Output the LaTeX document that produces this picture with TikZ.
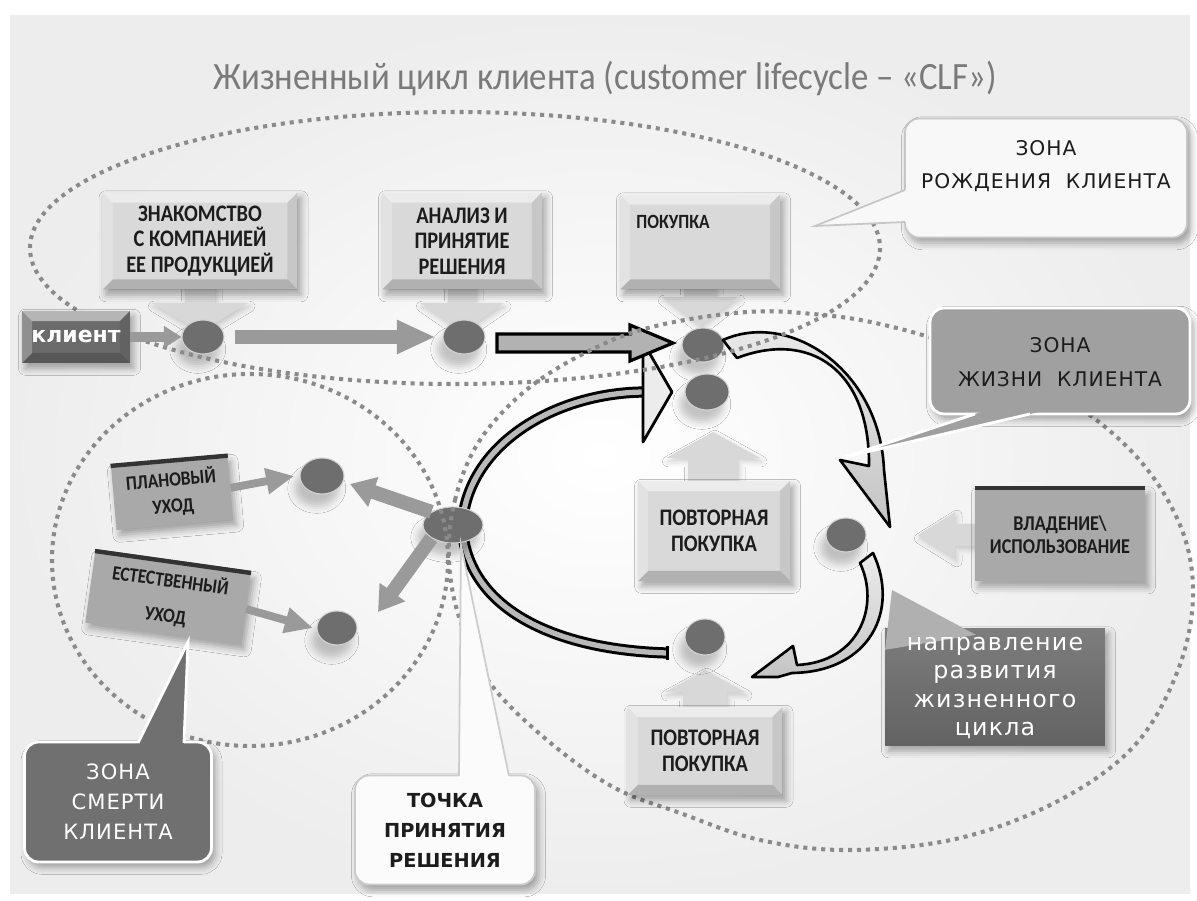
\documentclass[tikz,border=0pt]{standalone}
\usepackage{fontspec}
\setmainfont{Carlito}
\newfontfamily\titlefont[FakeStretch=0.9]{Carlito}
\newfontfamily\condfont[FakeStretch=0.86]{Carlito}
\newfontfamily\zonefont[LetterSpace=5]{DejaVu Sans}
\newfontfamily\verdfont{DejaVu Sans}
\usetikzlibrary{arrows.meta,shapes.geometric,shadows.blur,calc}

\definecolor{titlegray}{HTML}{7A7A7A}
\definecolor{boxlight}{HTML}{D9D9D9}
\definecolor{boxmid}{HTML}{A9A9A9}
\definecolor{boxdark}{HTML}{6B6B6B}
\definecolor{ballc}{HTML}{6E6E6E}
\definecolor{dotc}{HTML}{8A8A8A}
\definecolor{txt}{HTML}{1C1C1C}
\definecolor{arrlight}{HTML}{D8D8D8}
\definecolor{garr}{HTML}{9A9A9A}
\definecolor{zrfill}{HTML}{F8F8F8}
\definecolor{zlfill}{HTML}{A0A0A0}
\definecolor{zsfill}{HTML}{707070}
\definecolor{tpfill}{HTML}{FBFBFB}
\definecolor{cycfill}{HTML}{C4C4C4}

\newcommand\pw[1]{#1*0.569pt}
\newcommand\bv{10}
\newcommand\dnarrow[6]{%
  \fill[arrlight, blur shadow={shadow xshift=1pt,shadow yshift=-2pt,shadow opacity=18,shadow blur radius=3pt}]
   (#1-#5,#2) -- (#1+#5,#2) -- (#1+#5,#3) -- (#1+#6,#3) -- (#1,#4) -- (#1-#6,#3) -- (#1-#5,#3) -- cycle;}
\newcommand\lfarrow[6]{%
  \fill[arrlight, blur shadow={shadow xshift=1pt,shadow yshift=-2pt,shadow opacity=18,shadow blur radius=3pt}]
   (#2,#1-#5) -- (#2,#1+#5) -- (#3,#1+#5) -- (#3,#1+#6) -- (#4,#1) -- (#3,#1-#6) -- (#3,#1-#5) -- cycle;}
\newcommand\pointer[5]{%
  \fill[#1] ($(#4)!1.15!(#3)$) -- (#4) -- ($(#4)!1.15!(#5)$) -- cycle;
  \draw[#2] (#3) -- (#4) -- (#5);}

\tikzset{
  dots/.style={draw=dotc, line width=2.3pt, dash pattern=on 2.3pt off 2.8pt},
  ball/.style={ellipse, fill=ballc, draw=gray!35, line width=.6pt, inner sep=0pt,
    blur shadow={shadow xshift=-3pt, shadow yshift=-7pt, shadow opacity=22, shadow blur radius=4pt}},
  softshadow/.style={blur shadow={shadow xshift=2pt, shadow yshift=-3pt, shadow opacity=35, shadow blur radius=4pt}},
  bevel/.style={rectangle, fill=#1, inner sep=1pt, align=center, softshadow,
    path picture={
      \fill[white,opacity=.5] (path picture bounding box.north west) -- (path picture bounding box.north east)
        -- ([shift={(-\bv,\bv)}]path picture bounding box.north east) -- ([shift={(\bv,\bv)}]path picture bounding box.north west) -- cycle;
      \fill[black,opacity=.18] (path picture bounding box.south west) -- (path picture bounding box.south east)
        -- ([shift={(-\bv,-\bv)}]path picture bounding box.south east) -- ([shift={(\bv,-\bv)}]path picture bounding box.south west) -- cycle;
      \fill[white,opacity=.25] (path picture bounding box.north west) -- ([shift={(\bv,\bv)}]path picture bounding box.north west)
        -- ([shift={(\bv,-\bv)}]path picture bounding box.south west) -- (path picture bounding box.south west) -- cycle;
      \fill[black,opacity=.08] (path picture bounding box.north east) -- ([shift={(-\bv,\bv)}]path picture bounding box.north east)
        -- ([shift={(-\bv,-\bv)}]path picture bounding box.south east) -- (path picture bounding box.south east) -- cycle;
    }},
  boxtext/.style={font=\condfont\bfseries\fontsize{13.5}{14.5}\selectfont, text=txt},
  slab/.style={rectangle, fill=boxmid, inner sep=1pt, align=center, softshadow,
    font=\condfont\bfseries\fontsize{11.5}{15}\selectfont, text=txt},
  zone/.style={rectangle, rounded corners=8pt, line width=1.6pt, softshadow},
  zonetext/.style={font=\zonefont\fontsize{11.5}{19}\selectfont, align=center},
  garrow/.style={draw=garr, line width=#1},
  cyc/.style={top color=gray!15, bottom color=cycfill, draw=black, line width=1.5pt, line join=round},
}

\begin{document}
\begin{tikzpicture}[x=0.02cm, y=-0.02cm]
\useasboundingbox (0,0) rectangle (1197,901);
\fill[white] (0,0) rectangle (1197,901);
\shade[inner color=white, outer color=gray!14] (10,16) rectangle (1190,893);

% light block arrows from the boxes
\dnarrow{200}{270}{303}{332}{15}{48}
\dnarrow{462}{270}{303}{332}{14}{42}
\dnarrow{700}{270}{297}{326}{16}{38}
\dnarrow{713}{500}{458}{432}{25}{47}
\dnarrow{705}{720}{692}{670}{22}{40}
\lfarrow{535}{995}{955}{918}{11}{23}

% balls
\node[ball, minimum width=\pw{42}, minimum height=\pw{34}] (b1) at (203,337) {};
\node[ball, minimum width=\pw{42}, minimum height=\pw{34}] (b2) at (464,337) {};
\node[ball, minimum width=\pw{42}, minimum height=\pw{34}] (b3) at (703,345) {};
\node[ball, minimum width=\pw{44}, minimum height=\pw{36}] (b4) at (707,392) {};
\node[ball, minimum width=\pw{40}, minimum height=\pw{34}] (b5) at (846,535) {};
\node[ball, minimum width=\pw{40}, minimum height=\pw{36}] (b6) at (705,637) {};
\node[ball, minimum width=\pw{44}, minimum height=\pw{36}] (bp) at (322,476) {};
\node[ball, minimum width=\pw{40}, minimum height=\pw{34}] (bn) at (337,628) {};

% big C-shaped arrow around the decision point
\draw[draw=black, line width=1.7pt, double=gray!55, double distance=3pt]
  (667,653) .. controls (560,650) and (468,612) .. (462,527)
  .. controls (466,445) and (555,392) .. (646,392);
\draw[black, line width=1.7pt] (667,646) -- (667,660);
\filldraw[fill=gray!15, draw=black, line width=1.6pt, line join=round] (643,342) -- (672,392) -- (643,442) -- cycle;

% decision ball (drawn over the C)
\node[ball, minimum width=\pw{60}, minimum height=\pw{36}] (bd) at (453,525) {};

% straight outlined arrow b2 -> b3
\filldraw[fill=gray!60, draw=black, line width=1.8pt, line join=miter]
  (497,334) -- (630,334) -- (630,325) -- (673,343) -- (630,361) -- (630,352) -- (497,352) -- cycle;

% cycle arrows
\path[cyc] (723,340) .. controls (790,310) and (880,370) .. (884,470) -- (890,527) -- (840,460) -- (869,466)
  .. controls (870,370) and (810,330) .. (737,358) -- cycle;
\path[cyc] (860,563) .. controls (880,605) and (860,662) .. (797,665) -- (793,646) -- (752,677) -- (778,677)
  -- (792,673) .. controls (870,672) and (900,610) .. (873,553) -- cycle;

% grey arrows
\draw[garrow=8pt, -{Triangle[length=22pt,width=18pt]}] ([xshift=6pt]b1.east) -- ([xshift=-4pt]b2.west);
\coordinate (dlu) at (350,484);
\coordinate (dld) at (378,612);
\draw[garrow=8pt, -{Triangle[length=14pt,width=17pt]}] (bd.north west) -- (dlu);
\draw[garrow=8pt, -{Triangle[length=14pt,width=17pt]}] (bd.south west) -- (dld);

% dotted zones
\draw[dots] (455,248) ellipse [x radius=425, y radius=136];
\draw[dots] (250,560) ellipse [x radius=198, y radius=186];
\draw[dots] plot[smooth cycle, tension=0.6] coordinates {
  (449,560) (455,500) (480,440) (530,387) (597,347) (660,325) (747,312) (813,314) (880,324) (960,348)
  (1060,395) (1135,455) (1180,525) (1193,595) (1178,670) (1135,745) (1060,800) (960,838) (850,850)
  (760,840) (680,813) (613,787) (547,740) (490,683) (460,620)};

% client box
\node[bevel=boxdark, minimum width=\pw{108}, minimum height=\pw{52}, text=white,
  font=\verdfont\bfseries\fontsize{12.5}{14}\selectfont] (kl) at (76,337) {клиент};
\draw[garrow=6pt, -{Triangle[length=10pt,width=12pt]}] (kl.east) -- (b1.west);

% top boxes
\node[bevel=boxlight, minimum width=\pw{195}, minimum height=\pw{97}, boxtext] (zn) at (200,241) {ЗНАКОМСТВО\\С КОМПАНИЕЙ\\ЕЕ ПРОДУКЦИЕЙ};
\node[bevel=boxlight, minimum width=\pw{160}, minimum height=\pw{97}, boxtext] (an) at (462,241) {АНАЛИЗ И\\ПРИНЯТИЕ\\РЕШЕНИЯ};
\node[bevel=boxlight, minimum width=\pw{160}, minimum height=\pw{95}] (pk) at (700,242) {};
\node[font=\condfont\bfseries\fontsize{11.5}{12}\selectfont, text=txt] (pkt) at (673,222) {ПОКУПКА};

% repeat purchase boxes
\node[bevel=boxlight, minimum width=\pw{152}, minimum height=\pw{100}, boxtext] (rp1) at (714,531) {ПОВТОРНАЯ\\ПОКУПКА};
\node[bevel=boxlight, minimum width=\pw{155}, minimum height=\pw{88}, boxtext] (rp2) at (705,751) {ПОВТОРНАЯ\\ПОКУПКА};

% ownership box
\node[slab, minimum width=\pw{170}, minimum height=\pw{93}, font=\condfont\bfseries\fontsize{12}{13}\selectfont] (vl) at (1060,535) {ВЛАДЕНИЕ\textbackslash\\ИСПОЛЬЗОВАНИЕ};
\draw[line width=2.5pt, black!80] (vl.north west) -- (vl.north east);

% exit boxes
\node[slab, minimum width=\pw{117}, minimum height=\pw{64}, rotate=5] (pl) at (172,493) {ПЛАНОВЫЙ\\УХОД};
\draw[line width=2.5pt, black!80] (pl.north west) -- (pl.north east);
\node[slab, minimum width=\pw{157}, minimum height=\pw{72}, rotate=-8, font=\condfont\bfseries\fontsize{11.5}{20}\selectfont] (es) at (168,598) {ЕСТЕСТВЕННЫЙ\\УХОД};
\draw[line width=2.5pt, black!80] (es.north west) -- (es.north east);
\draw[garrow=4.5pt, -{Triangle[length=16pt,width=14pt]}] (pl.east) -- ([xshift=-3pt]bp.west);
\draw[garrow=4.5pt, -{Triangle[length=16pt,width=14pt]}] (es.east) -- ([xshift=-2pt]bn.west);

% callouts
\node[zone, fill=zrfill, draw=gray!45, line width=1pt, minimum width=\pw{282}, minimum height=\pw{119}] (zr) at (1046,178) {};
\pointer{zrfill}{draw=gray!45, line width=1pt}{905,190}{815,226}{905,222}
\node[zonetext, text=txt] (zrt) at (1046,166) {ЗОНА\\РОЖДЕНИЯ~~КЛИЕНТА};

\node[zone, fill=zlfill, draw=white, minimum width=\pw{260}, minimum height=\pw{106}] (zl) at (1060,361) {};
\pointer{zlfill}{draw=white, line width=1.6pt}{975,414}{845,457}{1030,414}
\node[zonetext, text=txt] (zlt) at (1060,362) {ЗОНА\\ЖИЗНИ~~КЛИЕНТА};

\node[rectangle, top color=boxdark!88!white, bottom color=boxdark!92!black, softshadow,
  minimum width=\pw{220}, minimum height=\pw{117}] (nap) at (995,687) {};
\pointer{gray!62}{draw=none}{886,642}{892,590}{965,629}
\node[font=\zonefont\fontsize{13.5}{16}\selectfont, text=white, align=center] (napt) at (995,688) {направление\\развития\\жизненного\\цикла};

\node[zone, fill=zsfill, draw=white, minimum width=\pw{187}, minimum height=\pw{120}] (zs) at (118,802) {};
\pointer{zsfill}{draw=white, line width=1.6pt}{138,743}{188,642}{184,743}
\node[font=\zonefont\fontsize{12}{17}\selectfont, text=white, align=center] (zst) at (118,802) {ЗОНА\\СМЕРТИ\\КЛИЕНТА};

\node[zone, fill=tpfill, draw=gray!40, line width=1pt, minimum width=\pw{180}, minimum height=\pw{109}] (tp) at (445,830) {};
\pointer{tpfill}{draw=gray!40, line width=1pt}{459,776}{461,545}{509,776}
\node[font=\verdfont\bfseries\fontsize{11}{17}\selectfont, text=txt, align=center] (tpt) at (445,830) {ТОЧКА\\ПРИНЯТИЯ\\РЕШЕНИЯ};

% title
\node[font=\titlefont\fontsize{22}{24}\selectfont, text=titlegray] (title) at (605,79) {Жизненный цикл клиента (customer lifecycle – «CLF»)};
\end{tikzpicture}
\end{document}
